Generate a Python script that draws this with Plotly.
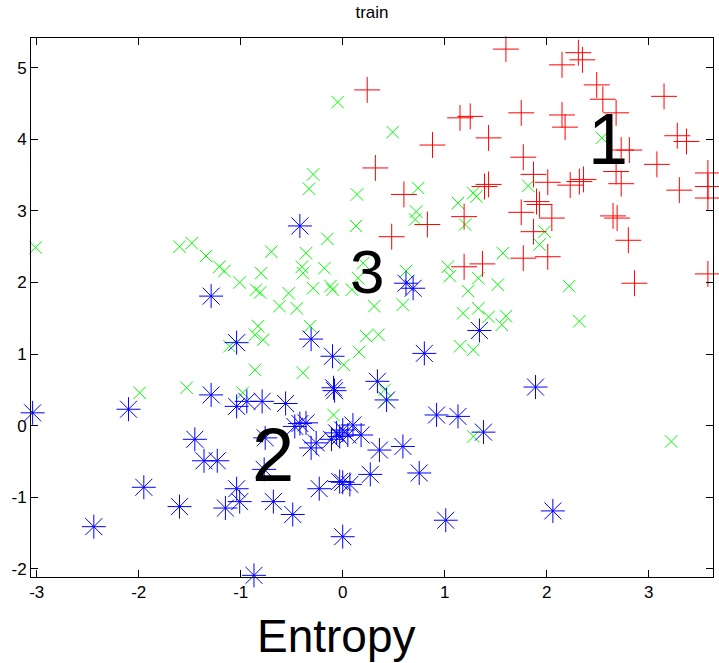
import plotly.graph_objects as go

# Class 1 (red +)
red_x = [1.60, 2.31, 2.35, 2.15, 2.49, 2.55, 2.68, 3.15, 0.24, 1.15, 1.25, 1.75, 2.15, 2.18,
         1.43, 0.88, 3.28, 3.37, 2.73, 2.81, 1.77, 3.08, 2.68, 0.32, 3.58, 3.58, 3.58, 3.30,
         2.73, 1.87, 2.01, 1.43, 1.39, 2.23, 2.32, 2.36, 0.60, 1.90, 1.93, 1.75, 2.05, 2.65,
         2.69, 1.87, 0.83, 1.19, 2.80, 0.48, 1.77, 2.01, 1.19, 1.37, 2.86, 3.58]
red_y = [5.26, 5.21, 5.11, 5.04, 4.76, 4.56, 4.37, 4.60, 4.69, 4.30, 4.32, 4.37, 4.34, 4.17,
         4.02, 3.92, 4.05, 3.97, 3.85, 3.85, 3.75, 3.65, 3.55, 3.60, 3.53, 3.34, 3.18, 3.29,
         3.38, 3.51, 3.40, 3.37, 3.34, 3.36, 3.41, 3.44, 3.23, 3.13, 3.09, 2.98, 2.90, 2.93,
         2.90, 2.71, 2.81, 2.92, 2.59, 2.64, 2.34, 2.36, 2.22, 2.26, 1.99, 2.12]

# Class 2 (blue *)
blue_x = [-3.04, -2.10, -1.29, -1.04, -0.94, -0.79, -0.56, -1.04, -0.31, -0.10, -0.09, -0.08,
          -1.29, -0.42, -1.45, -1.36, -1.23, -1.95, -1.60, -2.44, -1.04, -1.01, -1.15, -0.68,
          -0.49, -0.87, 0.00, -0.23, -0.03, 0.00, 0.07, -0.76, -0.77, -0.47, -0.42, -0.36,
          -0.31, -0.26, -0.11, -0.06, -0.03, 0.00, 0.05, 0.10, 0.18, 0.36, 0.59, 0.75, 0.27,
          1.34, 0.80, 0.34, 0.43, 0.92, 1.13, 1.38, 1.89, 2.06, 1.01, 0.62, 0.69]
blue_y = [0.18, 0.23, 0.43, 0.27, 0.34, 0.34, 0.31, 1.16, 1.21, 0.97, 0.53, 0.49,
          1.81, 2.79, -0.19, -0.49, -0.49, -0.86, -1.13, -1.41, -0.88, -1.06, -1.15, -1.06,
          -1.24, -2.09, -1.55, -0.88, -0.78, -0.79, -0.82, -0.17, -0.61, -0.01, 0.03, 0.04,
          -0.31, -0.24, -0.19, -0.10, -0.15, -0.06, -0.13, 0.01, -0.13, -0.34, -0.29, -0.66, -0.68,
          1.33, 1.01, 0.62, 0.36, 0.15, 0.13, -0.09, 0.54, -1.19, -1.32, 1.99, 1.92]

# Class 3 (green x)
green_x = [-3.01, -0.05, -0.29, -0.33, 0.14, -0.15, 0.13, -1.60, -1.48, -1.34, -1.21, -1.16,
           -0.70, -1.01, -0.80, -0.85, -0.81, -0.53, -0.36, -0.40, -0.39, -0.18, -0.29, -0.12,
           -0.10, 0.74, 0.72, 0.71, 1.13, 1.28, 1.31, 1.20, 1.57, 1.03, 1.05, 1.33, 1.23, 1.52,
           0.62, 0.20, 0.15, 0.09, 0.49, 2.54, 1.82, 1.98, 1.93, 2.22, 0.31, 0.59, 1.18, 1.33,
           1.43, 1.56, 1.60, 2.32, 1.15, 1.28, 0.23, 0.35, 0.16, 0.41, 0.43, 1.28, 3.22, 0.01,
           -0.62, -0.45, -0.83, -0.86, -0.78, -0.32, -1.11, -0.86, -0.39, -1.53, -0.98, -0.09, -1.99]
green_y = [2.49, 4.52, 3.51, 3.31, 3.23, 2.61, 2.79, 2.50, 2.55, 2.37, 2.22, 2.16,
           2.43, 2.00, 2.13, 1.90, 1.86, 1.85, 2.41, 2.22, 2.13, 2.20, 1.92, 1.95,
           1.90, 3.32, 2.99, 2.88, 3.11, 3.25, 3.20, 2.81, 2.41, 2.22, 2.09, 2.06, 1.88, 1.97,
           2.16, 2.27, 2.06, 1.90, 4.10, 4.02, 3.35, 2.71, 2.53, 1.95, 1.67, 1.69, 1.57, 1.64,
           1.52, 1.41, 1.53, 1.46, 1.11, 1.06, 1.25, 1.27, 1.03, 0.50, 0.36, -0.15, -0.22, 0.85,
           1.67, 1.64, 1.39, 1.27, 1.20, 1.39, 1.11, 0.78, 0.74, 0.53, 0.46, 0.15, 0.46]

cluster_labels = ["1", "2", "3"]
label_x = [2.60, -0.68, 0.24]
label_y = [4.00, -0.40, 2.15]
label_size = [72, 76, 62]

x_ticks = [-3, -2, -1, 0, 1, 2, 3]
y_ticks = [-2, -1, 0, 1, 2, 3, 4, 5]

FONT = "Liberation Sans, Arial, sans-serif"

fig = go.Figure()
fig.add_trace(go.Scatter(x=green_x, y=green_y, mode="markers", cliponaxis=False,
                         marker=dict(symbol="x-thin", size=12.5, color="#00ff00",
                                     line=dict(color="#00ff00", width=1))))
fig.add_trace(go.Scatter(x=red_x, y=red_y, mode="markers", cliponaxis=False,
                         marker=dict(symbol="cross-thin", size=18.5, color="#ff0000",
                                     line=dict(color="#ff0000", width=1))))
fig.add_trace(go.Scatter(x=blue_x, y=blue_y, mode="markers", cliponaxis=False,
                         marker=dict(symbol="asterisk", size=20, color="#0000ff",
                                     line=dict(color="#0000ff", width=1))))

for t, lx, ly, ls in zip(cluster_labels, label_x, label_y, label_size):
    fig.add_annotation(x=lx, y=ly, xref="x", yref="y", text=t, showarrow=False,
                       font=dict(family=FONT, size=ls, color="black"))

fig.add_annotation(x=0.448, y=-0.057, xref="paper", yref="paper", text="Entropy",
                   showarrow=False, xanchor="center", yanchor="top",
                   font=dict(family=FONT, size=46, color="black"))

fig.update_layout(
    width=719, height=663, autosize=False,
    margin=dict(l=31, r=6, t=38, b=86),
    paper_bgcolor="white", plot_bgcolor="white",
    showlegend=False,
    font=dict(family=FONT, size=17, color="black"),
    title=dict(text="train", x=0.5, xref="paper", y=1 - 12 / 663, yref="container",
               xanchor="center", yanchor="middle", font=dict(family=FONT, size=17, color="black")),
)
fig.update_xaxes(range=[-3.056, 3.63], tickvals=x_ticks, ticktext=[str(v) for v in x_ticks],
                 showgrid=False, zeroline=False, showline=True, linecolor="black", linewidth=1,
                 mirror="allticks", ticks="inside", ticklen=7, tickcolor="black",
                 tickfont=dict(family=FONT, size=17, color="black"))
fig.update_yaxes(range=[-2.113, 5.415], tickvals=y_ticks, ticktext=[str(v) for v in y_ticks],
                 showgrid=False, zeroline=False, showline=True, linecolor="black", linewidth=1,
                 mirror="allticks", ticks="inside", ticklen=7, tickcolor="black",
                 tickfont=dict(family=FONT, size=17, color="black"))

fig.write_html("out.html")
